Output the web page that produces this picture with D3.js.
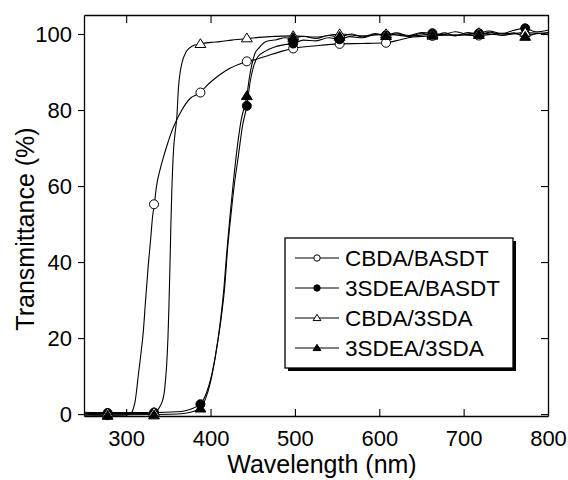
<!DOCTYPE html>
<html>
<head>
<meta charset="utf-8">
<script src="https://cdn.jsdelivr.net/npm/d3@7/dist/d3.min.js"></script>
<style>
  body { margin: 0; background: #fff; }
  text { font-family: 'Liberation Sans', Arial, sans-serif; fill: #000; }
</style>
</head>
<body>
<div id="chart"></div>
<script>
// series names (legend order)
const seriesNames = ['CBDA/BASDT', '3SDEA/BASDT', 'CBDA/3SDA', '3SDEA/3SDA'];
const seriesMarkers = ['circleOpen', 'circleFilled', 'triOpen', 'triFilled'];

const xTicks = [300, 400, 500, 600, 700, 800];
const yTicks = [0, 20, 40, 60, 80, 100];

// spectra: [wavelength nm, transmittance %]
const cbdaBasdt = [
  [250, -0.3], [278, -0.3], [300, -0.2], [304, 0], [306.5, 0.3], [308.5, 1.5], [310.5, 3.2],
  [312.5, 6.5], [314.4, 10.3], [317, 15], [320.3, 21.7], [323, 30], [326.2, 39.2], [329, 46],
  [331.3, 52], [333.4, 55.2], [336, 60], [340, 64.2], [344, 67.5], [348, 70.4], [353, 73.8],
  [358, 76.5], [366, 80], [376, 83.1], [388, 84.6], [395, 86.3], [403, 87.9], [413, 89.6],
  [423, 91], [433, 92], [443, 92.7], [458, 93.6], [470, 94.5], [485, 95.5], [498, 96.2],
  [525, 96.9], [553, 97.4], [580, 97.5], [608, 97.7], [625, 98.5], [640, 99.2], [663, 99.5],
  [690, 99.8], [718, 99.6], [745, 100.2], [773, 99.9], [800, 100.4],
];
const sdeaBasdt = [
  [250, 0.5], [278, 0.4], [333, 0.4], [360, 0.6], [370, 0.9], [380, 1.6], [388, 2.6],
  [395, 5.5], [401, 10], [407, 17], [413, 26], [417, 34], [420, 43], [424, 52], [428, 60],
  [433, 68], [438, 76], [443, 81.1], [447, 87.5], [451, 91.5], [456, 94], [465, 95.5],
  [475, 96.5], [488, 97.2], [498, 97.5], [510, 98.4], [525, 98.2], [540, 99], [553, 98.6],
  [565, 99.3], [580, 99], [595, 99.8], [608, 99.7], [620, 100.3], [635, 99.6], [650, 100.4],
  [663, 100.2], [675, 99.8], [690, 100.6], [705, 99.9], [718, 100.2], [730, 100.8],
  [745, 100.1], [760, 101], [773, 101.5], [785, 100.6], [800, 101],
];
const cbda3sda = [
  [250, 0.2], [278, 0.2], [300, 0.2], [325, 0.2], [333, 0.4], [337, 1], [340, 2], [343, 3.5],
  [345, 5.5], [347, 10], [348, 13], [349.5, 20], [350.5, 27], [352, 40], [353, 50], [354, 58],
  [356, 69], [358, 74], [360, 78], [362, 86], [364, 90], [366, 92.3], [371, 95.3], [378, 96.8],
  [388, 97.4], [400, 97.8], [411, 98], [425, 98.4], [443, 98.8], [470, 99.3], [498, 99.5],
  [525, 99.2], [553, 100], [580, 99.5], [608, 100], [635, 99.4], [663, 100], [690, 99.6],
  [718, 100.3], [745, 99.7], [773, 100.4], [800, 100],
];
const sdea3sda = [
  [250, 0], [278, -0.2], [333, -0.1], [365, 0.1], [375, 0.4], [382, 0.9], [388, 1.5],
  [394, 4], [400, 8.5], [406, 15.5], [412, 25], [416, 33.5], [419, 42], [423, 52], [427, 61],
  [431, 69], [436, 77], [443, 83.7], [446, 88.5], [449, 92], [452, 94.5], [458, 96.5],
  [466, 98], [478, 98.5], [488, 99], [498, 98.9], [510, 99.4], [525, 98.8], [540, 99.6],
  [553, 99.3], [568, 100], [580, 99.2], [595, 100.1], [608, 99.5], [622, 100], [635, 99.3],
  [650, 100.2], [663, 99.6], [678, 100.3], [690, 99.5], [705, 100.4], [718, 99.8], [732, 100.5],
  [745, 99.6], [760, 100.3], [773, 99.3], [788, 100.2], [800, 99.8],
];

// marker positions
const cbdaBasdtMarks = [[278, -0.3], [333, 55.2], [388, 84.6], [443, 92.8], [498, 96.2],
  [553, 97.4], [608, 97.7], [663, 99.5], [718, 99.6], [773, 99.9]];
const sdeaBasdtMarks = [[278, 0.3], [333, 0.4], [388, 2.6], [443, 81.1], [498, 97.5],
  [553, 98.6], [608, 99.7], [663, 100.2], [718, 100.2], [773, 101.5]];
const cbda3sdaMarks = [[278, 0.2], [333, 0.4], [388, 97.4], [443, 98.9], [498, 99.5],
  [553, 100], [608, 100], [663, 100], [718, 100.3], [773, 100.4]];
const sdea3sdaMarks = [[278, -0.4], [333, -0.3], [388, 1.5], [443, 83.7], [498, 99],
  [553, 99.3], [608, 99.5], [663, 99.6], [718, 99.8], [773, 99.3]];

const lines = [cbdaBasdt, sdeaBasdt, cbda3sda, sdea3sda];
const marks = [cbdaBasdtMarks, sdeaBasdtMarks, cbda3sdaMarks, sdea3sdaMarks];

const graph = {};
graph.margin = { top: 15, right: 20, bottom: 64, left: 84 };
graph.width = 568 - graph.margin.left - graph.margin.right;
graph.height = 480 - graph.margin.top - graph.margin.bottom;

graph.svg = d3.select('#chart')
  .append('svg')
  .attr('width', 568)
  .attr('height', 480)
  .append('g')
  .attr('transform', `translate(${graph.margin.left},${graph.margin.top})`);

graph.x = d3.scaleLinear().domain([250, 800]).range([0, graph.width]);
graph.y = d3.scaleLinear().domain([-0.5, 105]).range([graph.height, 0]);

const drawMarker = (sel, type, size) => {
  if (type === 'circleOpen' || type === 'circleFilled') {
    sel.append('circle')
      .attr('r', size)
      .attr('fill', type === 'circleOpen' ? '#fff' : '#000')
      .attr('stroke', '#000')
      .attr('stroke-width', 1);
  } else {
    const s = size * 1.15;
    sel.append('path')
      .attr('d', `M0,${-s}L${s * 1.05},${s * 0.7}L${-s * 1.05},${s * 0.7}Z`)
      .attr('fill', type === 'triOpen' ? '#fff' : '#000')
      .attr('stroke', '#000')
      .attr('stroke-width', 1);
  }
};

// axes: bottom (ticks inward), top (inward), left (outward), right (inward)
graph.svg.append('g')
  .attr('transform', `translate(0,${graph.height})`)
  .call(d3.axisBottom(graph.x).tickValues(xTicks).tickSizeInner(-7).tickSizeOuter(0).tickPadding(14))
  .call((g) => g.select('.domain').attr('stroke-width', 1.3));
graph.svg.append('g')
  .call(d3.axisTop(graph.x).tickValues(xTicks).tickSizeInner(-8).tickSizeOuter(0).tickFormat(''))
  .call((g) => g.select('.domain').attr('stroke-width', 1.3));
graph.svg.append('g')
  .call(d3.axisLeft(graph.y).tickValues(yTicks).tickSizeInner(6).tickSizeOuter(0).tickPadding(6))
  .call((g) => g.select('.domain').attr('stroke-width', 1.3));
graph.svg.append('g')
  .attr('transform', `translate(${graph.width},0)`)
  .call(d3.axisRight(graph.y).tickValues(yTicks).tickSizeInner(-7).tickSizeOuter(0).tickFormat(''))
  .call((g) => g.select('.domain').attr('stroke-width', 1.3));

graph.svg.selectAll('.tick text')
  .style('font-size', '22px')
  .style('font-family', "'Liberation Sans', Arial, sans-serif");
graph.svg.selectAll('.tick line').attr('stroke-width', 1.1);

// axis titles
graph.svg.append('text')
  .attr('x', graph.width / 2 + 6)
  .attr('y', graph.height + 57)
  .style('text-anchor', 'middle')
  .style('font-size', '25px')
  .text('Wavelength (nm)');

graph.svg.append('text')
  .attr('transform', 'rotate(-90)')
  .attr('x', -214)
  .attr('y', -50)
  .style('text-anchor', 'middle')
  .style('font-size', '25px')
  .text('Transmittance (%)');

// spectra
const line = d3.line()
  .x((d) => graph.x(d[0]))
  .y((d) => graph.y(d[1]))
  .curve(d3.curveMonotoneX);

lines.forEach((data) => {
  graph.svg.append('path')
    .datum(data)
    .attr('fill', 'none')
    .attr('stroke', '#000')
    .attr('stroke-width', 1.1)
    .attr('d', line);
});

marks.forEach((data, i) => {
  graph.svg.append('g')
    .selectAll('g')
    .data(data)
    .join('g')
    .attr('transform', (d) => `translate(${graph.x(d[0])},${graph.y(d[1])})`)
    .each(function addMarker() { drawMarker(d3.select(this), seriesMarkers[i], 4.5); });
});

// legend with drop shadow
const legend = graph.svg.append('g')
  .attr('transform', `translate(${285 - graph.margin.left},${238 - graph.margin.top})`);
legend.append('rect')
  .attr('x', 3).attr('y', 3)
  .attr('width', 228).attr('height', 130)
  .attr('fill', '#000');
legend.append('rect')
  .attr('width', 228).attr('height', 130)
  .attr('fill', '#fff')
  .attr('stroke', '#000')
  .attr('stroke-width', 1.3);

seriesNames.forEach((name, i) => {
  const row = legend.append('g').attr('transform', `translate(0,${20 + i * 30})`);
  row.append('line')
    .attr('x1', 10).attr('x2', 54)
    .attr('stroke', '#000')
    .attr('stroke-width', 1);
  const m = row.append('g').attr('transform', 'translate(32,0)');
  drawMarker(m, seriesMarkers[i], 3.2);
  row.append('text')
    .attr('x', 60)
    .attr('y', 8)
    .style('font-size', '22.5px')
    .text(name);
});
</script>
</body>
</html>
